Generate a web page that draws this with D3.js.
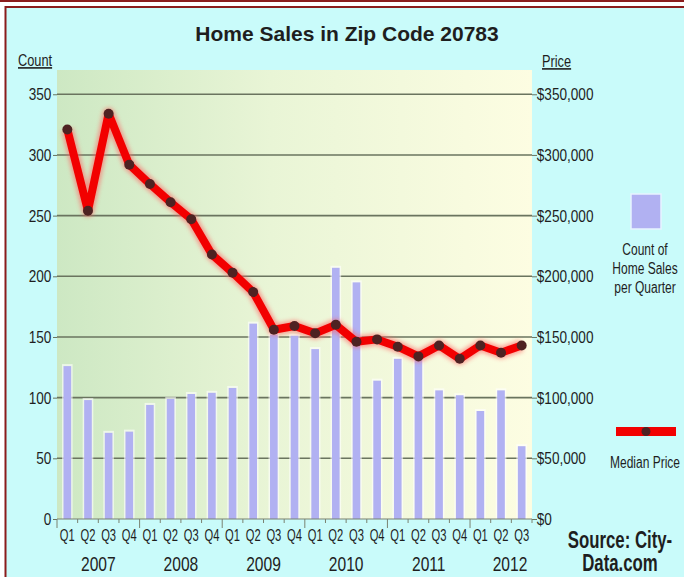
<!DOCTYPE html>
<html>
<head>
<meta charset="utf-8">
<script src="https://cdn.jsdelivr.net/npm/d3@7"></script>
<style>
  body { margin: 0; background: #fff; }
  svg { display: block; }
  text { fill: #1e1e1e; font-family: 'Liberation Sans', Arial, sans-serif; }
</style>
</head>
<body>
<div id="chart"></div>
<script>
// quarterly home sales, zip code 20783
var quarters = ["Q1", "Q2", "Q3", "Q4", "Q1", "Q2", "Q3", "Q4", "Q1", "Q2", "Q3", "Q4",
                "Q1", "Q2", "Q3", "Q4", "Q1", "Q2", "Q3", "Q4", "Q1", "Q2", "Q3"];
var years = ["2007", "2008", "2009", "2010", "2011", "2012"];
var salesCount = [126, 98, 71, 72, 94, 99, 103, 104, 108, 161, 152, 151,
                  140, 207, 195, 114, 132, 131, 106, 102, 89, 106, 60];
var medianPrice = [321000, 254000, 334000, 292000, 276000, 261000, 247000, 218000, 203000, 187000, 156000, 159000,
                   153000, 160000, 146000, 148000, 142000, 134000, 143000, 132000, 143000, 137000, 143000];
var countTicks = [0, 50, 100, 150, 200, 250, 300, 350];
var priceTicks = [0, 50000, 100000, 150000, 200000, 250000, 300000, 350000];

var width = 684, height = 577;
var plotLeft = 57, plotRight = 532, plotTop = 70, plotBottom = 519;

var svg = d3.select("#chart")
    .append("svg")
    .attr("width", width)
    .attr("height", height);

// narrow-looking text: squeeze horizontally around its anchor point
function squeeze(sel, x, y, sx) {
    return sel.attr("transform", "translate(" + x + "," + y + ") scale(" + sx + ",1)");
}

var defs = svg.append("defs");

var bgGrad = defs.append("linearGradient")
    .attr("id", "plotBg")
    .attr("x1", "0%").attr("x2", "100%")
    .attr("y1", "0%").attr("y2", "0%");
bgGrad.append("stop").attr("offset", "0%").attr("stop-color", "#cde8c3");
bgGrad.append("stop").attr("offset", "45%").attr("stop-color", "#e9f5d6");
bgGrad.append("stop").attr("offset", "100%").attr("stop-color", "#fdfde2");

var glow = defs.append("filter").attr("id", "glow")
    .attr("x", "-10%").attr("y", "-10%").attr("width", "120%").attr("height", "120%");
glow.append("feGaussianBlur").attr("stdDeviation", 2);

// frame
svg.append("rect")
    .attr("x", 0).attr("y", 0)
    .attr("width", width).attr("height", 2)
    .attr("fill", "#8a1c1c");
svg.append("rect")
    .attr("x", 5.5).attr("y", 7)
    .attr("width", width + 10).attr("height", height + 10)
    .attr("fill", "#c9fbfa")
    .attr("stroke", "#8a1c1c")
    .attr("stroke-width", 2);

// plot background
svg.append("rect")
    .attr("x", plotLeft).attr("y", plotTop)
    .attr("width", plotRight - plotLeft).attr("height", plotBottom - plotTop)
    .attr("fill", "url(#plotBg)");

var x = d3.scaleBand()
    .domain(d3.range(quarters.length))
    .range([plotLeft, plotRight])
    .paddingInner(0.63)
    .paddingOuter(0.315);

var xEdge = d3.scaleLinear()
    .domain([0, quarters.length])
    .range([plotLeft, plotRight]);

var y = d3.scaleLinear()
    .domain([0, 370])
    .range([plotBottom, plotTop]);

var y2 = d3.scaleLinear()
    .domain([0, 370000])
    .range([plotBottom, plotTop]);

// gridlines
svg.append("g")
    .selectAll("line")
    .data(countTicks.slice(1))
    .enter().append("line")
    .attr("x1", plotLeft).attr("x2", plotRight)
    .attr("y1", function (d) { return y(d); })
    .attr("y2", function (d) { return y(d); })
    .attr("stroke", "#6a745f")
    .attr("stroke-width", 1.6);

// bars with pale halo
var bars = svg.append("g");
bars.selectAll("rect.halo")
    .data(salesCount)
    .enter().append("rect")
    .attr("class", "halo")
    .attr("x", function (d, i) { return x(i) - 1.5; })
    .attr("y", function (d) { return y(d) - 2; })
    .attr("width", x.bandwidth() + 3)
    .attr("height", function (d) { return plotBottom - y(d) + 2; })
    .attr("fill", "#ffffff")
    .attr("opacity", 0.6);
bars.selectAll("rect.bar")
    .data(salesCount)
    .enter().append("rect")
    .attr("class", "bar")
    .attr("x", function (d, i) { return x(i); })
    .attr("y", function (d) { return y(d); })
    .attr("width", x.bandwidth())
    .attr("height", function (d) { return plotBottom - y(d); })
    .attr("fill", "#b1b1f2");

// left axis
var leftAxis = d3.axisLeft(y).tickValues(countTicks).tickSize(4).tickPadding(3);
var gl = svg.append("g")
    .attr("transform", "translate(" + plotLeft + ",0)")
    .call(leftAxis);
gl.select(".domain").remove();
gl.selectAll("line").attr("stroke", "#6a745f");
gl.selectAll("text")
    .style("font-family", "'Liberation Sans', Arial, sans-serif")
    .style("font-size", "17px")
    .attr("fill", "#1e1e1e")
    .attr("transform", "scale(0.8,1)");

// right axis
var rightAxis = d3.axisRight(y2).tickValues(priceTicks).tickSize(5).tickPadding(1)
    .tickFormat(function (d) { return "$" + d3.format(",")(d); });
var gr = svg.append("g")
    .attr("transform", "translate(" + plotRight + ",0)")
    .call(rightAxis);
gr.select(".domain").remove();
gr.selectAll("line").attr("stroke", "#6a745f");
gr.selectAll("text")
    .style("font-family", "'Liberation Sans', Arial, sans-serif")
    .style("font-size", "17px")
    .attr("fill", "#1e1e1e")
    .attr("transform", "scale(0.8,1)");

// x axis line and ticks
var gx = svg.append("g");
gx.append("line")
    .attr("x1", plotLeft).attr("x2", plotRight)
    .attr("y1", plotBottom).attr("y2", plotBottom)
    .attr("stroke", "#7a8270")
    .attr("stroke-width", 1.2);
gx.selectAll("line.tick")
    .data(d3.range(quarters.length + 1))
    .enter().append("line")
    .attr("class", "tick")
    .attr("x1", function (d) { return xEdge(d); })
    .attr("x2", function (d) { return xEdge(d); })
    .attr("y1", plotBottom)
    .attr("y2", function (d) { return d % 4 === 0 ? plotBottom + 9 : plotBottom + 4; })
    .attr("stroke", "#7a8270");
gx.selectAll("text.q")
    .data(quarters)
    .enter().append("text")
    .attr("class", "q")
    .attr("text-anchor", "middle")
    .style("font-size", "16px")
    .each(function (d, i) {
        squeeze(d3.select(this), x(i) + x.bandwidth() / 2, 541, 0.7);
    })
    .text(function (d) { return d; });
gx.selectAll("text.yr")
    .data(years)
    .enter().append("text")
    .attr("class", "yr")
    .attr("text-anchor", "middle")
    .style("font-size", "20px")
    .each(function (d, i) {
        squeeze(d3.select(this), Math.min(xEdge(i * 4 + 2), plotRight - 22), 571, 0.78);
    })
    .text(function (d) { return d; });

// median price line
var line = d3.line()
    .x(function (d, i) { return x(i) + x.bandwidth() / 2; })
    .y(function (d) { return y2(d); });

svg.append("path")
    .datum(medianPrice)
    .attr("d", line)
    .attr("fill", "none")
    .attr("stroke", "#ff6060")
    .attr("stroke-width", 12)
    .attr("stroke-linejoin", "round")
    .attr("opacity", 0.6)
    .attr("filter", "url(#glow)");
svg.append("path")
    .datum(medianPrice)
    .attr("d", line)
    .attr("fill", "none")
    .attr("stroke", "#f20000")
    .attr("stroke-width", 8)
    .attr("stroke-linejoin", "round");
svg.append("g")
    .selectAll("circle")
    .data(medianPrice)
    .enter().append("circle")
    .attr("cx", function (d, i) { return x(i) + x.bandwidth() / 2; })
    .attr("cy", function (d) { return y2(d); })
    .attr("r", 5)
    .attr("fill", "#4e2222");

// title and axis names
svg.append("text")
    .attr("x", 347).attr("y", 41)
    .attr("text-anchor", "middle")
    .style("font-size", "21px")
    .style("font-weight", "bold")
    .text("Home Sales in Zip Code 20783");

squeeze(svg.append("text"), 18, 66, 0.8)
    .style("font-size", "16px")
    .style("text-decoration", "underline")
    .text("Count");
squeeze(svg.append("text"), 542, 67, 0.8)
    .style("font-size", "16px")
    .style("text-decoration", "underline")
    .text("Price");

// legend
var legend = svg.append("g");
legend.append("rect")
    .attr("x", 631).attr("y", 194)
    .attr("width", 30).attr("height", 35)
    .attr("fill", "#b1b1f2")
    .attr("stroke", "#e8f4ff")
    .attr("stroke-width", 1.5);
legend.selectAll("text.cnt")
    .data(["Count of", "Home Sales", "per Quarter"])
    .enter().append("text")
    .attr("class", "cnt")
    .attr("text-anchor", "middle")
    .style("font-size", "16px")
    .each(function (d, i) {
        squeeze(d3.select(this), 645, 255 + i * 19, 0.75);
    })
    .text(function (d) { return d; });
legend.append("rect")
    .attr("x", 616).attr("y", 427)
    .attr("width", 60).attr("height", 9)
    .attr("fill", "#f20000");
legend.append("circle")
    .attr("cx", 646).attr("cy", 431.5)
    .attr("r", 4.5)
    .attr("fill", "#4e2222");
squeeze(legend.append("text"), 645, 468, 0.75)
    .attr("text-anchor", "middle")
    .style("font-size", "16px")
    .text("Median Price");

// source
svg.selectAll("text.src")
    .data(["Source: City-", "Data.com"])
    .enter().append("text")
    .attr("class", "src")
    .attr("text-anchor", "middle")
    .style("font-size", "23px")
    .style("font-weight", "bold")
    .attr("fill", "#000")
    .each(function (d, i) {
        squeeze(d3.select(this), 620, 548 + i * 23, 0.73);
    })
    .text(function (d) { return d; });
</script>
</body>
</html>
